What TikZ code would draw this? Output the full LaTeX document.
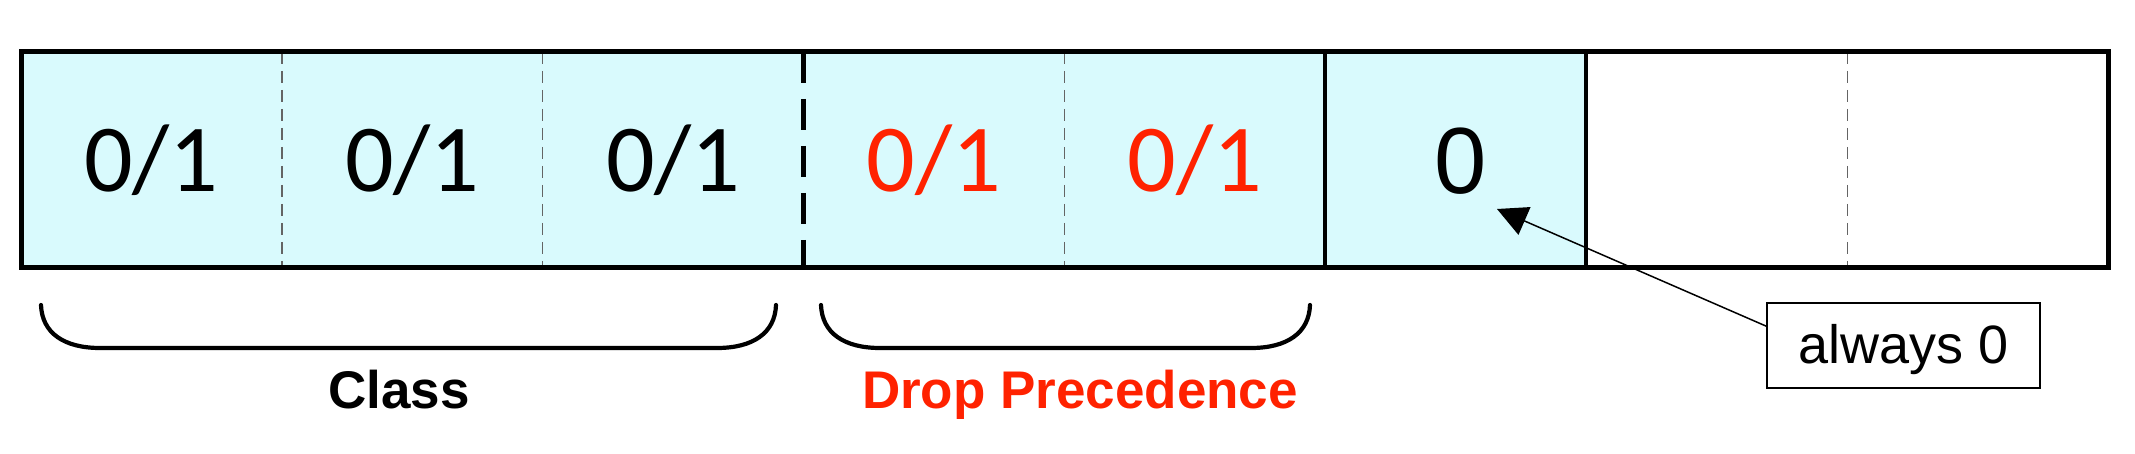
\documentclass[tikz,border=0pt]{standalone}
\usepackage{fontspec}
\setmainfont{Liberation Sans}
\newfontfamily\carlito{Carlito}
\usetikzlibrary{arrows.meta}
\definecolor{cellfill}{RGB}{217,250,253}
\definecolor{dpred}{RGB}{255,34,0}
\definecolor{thindash}{RGB}{100,100,100}
\begin{document}
\begin{tikzpicture}[x=1pt,y=-1pt,
  cell/.style={rectangle,minimum width=260.875pt,minimum height=216pt,inner sep=0pt,outer sep=0pt,
    font=\carlito\fontsize{96}{106}\selectfont},
  blue cell/.style={cell,fill=cellfill},
  white cell/.style={cell,fill=white},
  thin div/.style={draw=thindash,line width=1.3pt,dash pattern=on 12pt off 7pt},
  thick div/.style={draw=black,line width=4.5pt,dash pattern=on 31pt off 16pt},
  solid div/.style={draw=black,line width=3.8pt},
  bracket/.style={draw=black,line width=4.2pt,line cap=round},
  grouplabel/.style={anchor=base,font=\fontsize{53}{60}\selectfont\bfseries},
  notebox/.style={draw=black,line width=1.4pt,fill=white,minimum width=273pt,minimum height=85pt,
    inner sep=0pt,text height=40pt,text depth=5pt,font=\fontsize{54}{60}\selectfont},
  pointer/.style={draw=black,line width=1.5pt,-{Triangle[length=30pt,width=30pt]}}
]
\useasboundingbox (0,0) rectangle (2135,454);
\fill[white] (0,0) rectangle (2135,454);

% cells
\node[blue cell] (c1) at (151.44,160) {0/1};
\node[blue cell] (c2) at (412.31,160) {0/1};
\node[blue cell] (c3) at (673.19,160) {0/1};
\node[blue cell,text=dpred] (c4) at (934.06,160) {0/1};
\node[blue cell,text=dpred] (c5) at (1194.94,160) {0/1};
\node[blue cell] (c6) at (1455.81,160) {};
\node[white cell] (c7) at (1716.69,160) {};
\node[white cell] (c8) at (1977.56,160) {};
\node[font=\fontsize{94}{100}\selectfont,inner sep=0pt] (z0) at (1461,161.5) {0};

% dividers
\draw[thin div] (c1.north east) -- (c1.south east);
\draw[thin div] (c2.north east) -- (c2.south east);
\draw[thick div] (c3.north east) -- (c3.south east);
\draw[thin div] (c4.north east) -- (c4.south east);
\draw[solid div] (c5.north east) -- (c5.south east);
\draw[solid div] (c6.north east) -- (c6.south east);
\draw[thin div] (c7.north east) -- (c7.south east);

% outer border
\draw[line width=5pt] (c1.north west) rectangle (c8.south east);

% brackets
\draw[bracket] (41,305) .. controls (42,333) and (64,348) .. (100,348) -- (717,348)
  .. controls (753,348) and (775,333) .. (776,305);
\draw[bracket] (821,305) .. controls (822,333) and (844,348) .. (880,348) -- (1251,348)
  .. controls (1287,348) and (1309,333) .. (1310,305);

\node[grouplabel] (class) at (399,408) {Class};
\node[grouplabel,text=dpred] (drop) at (1080,408) {Drop Precedence};

% note
\node[notebox] (always) at (1903.5,345.5) {always 0};
\coordinate (tip) at (1497,209);
\draw[pointer] (always.172) -- (tip);
\end{tikzpicture}
\end{document}
